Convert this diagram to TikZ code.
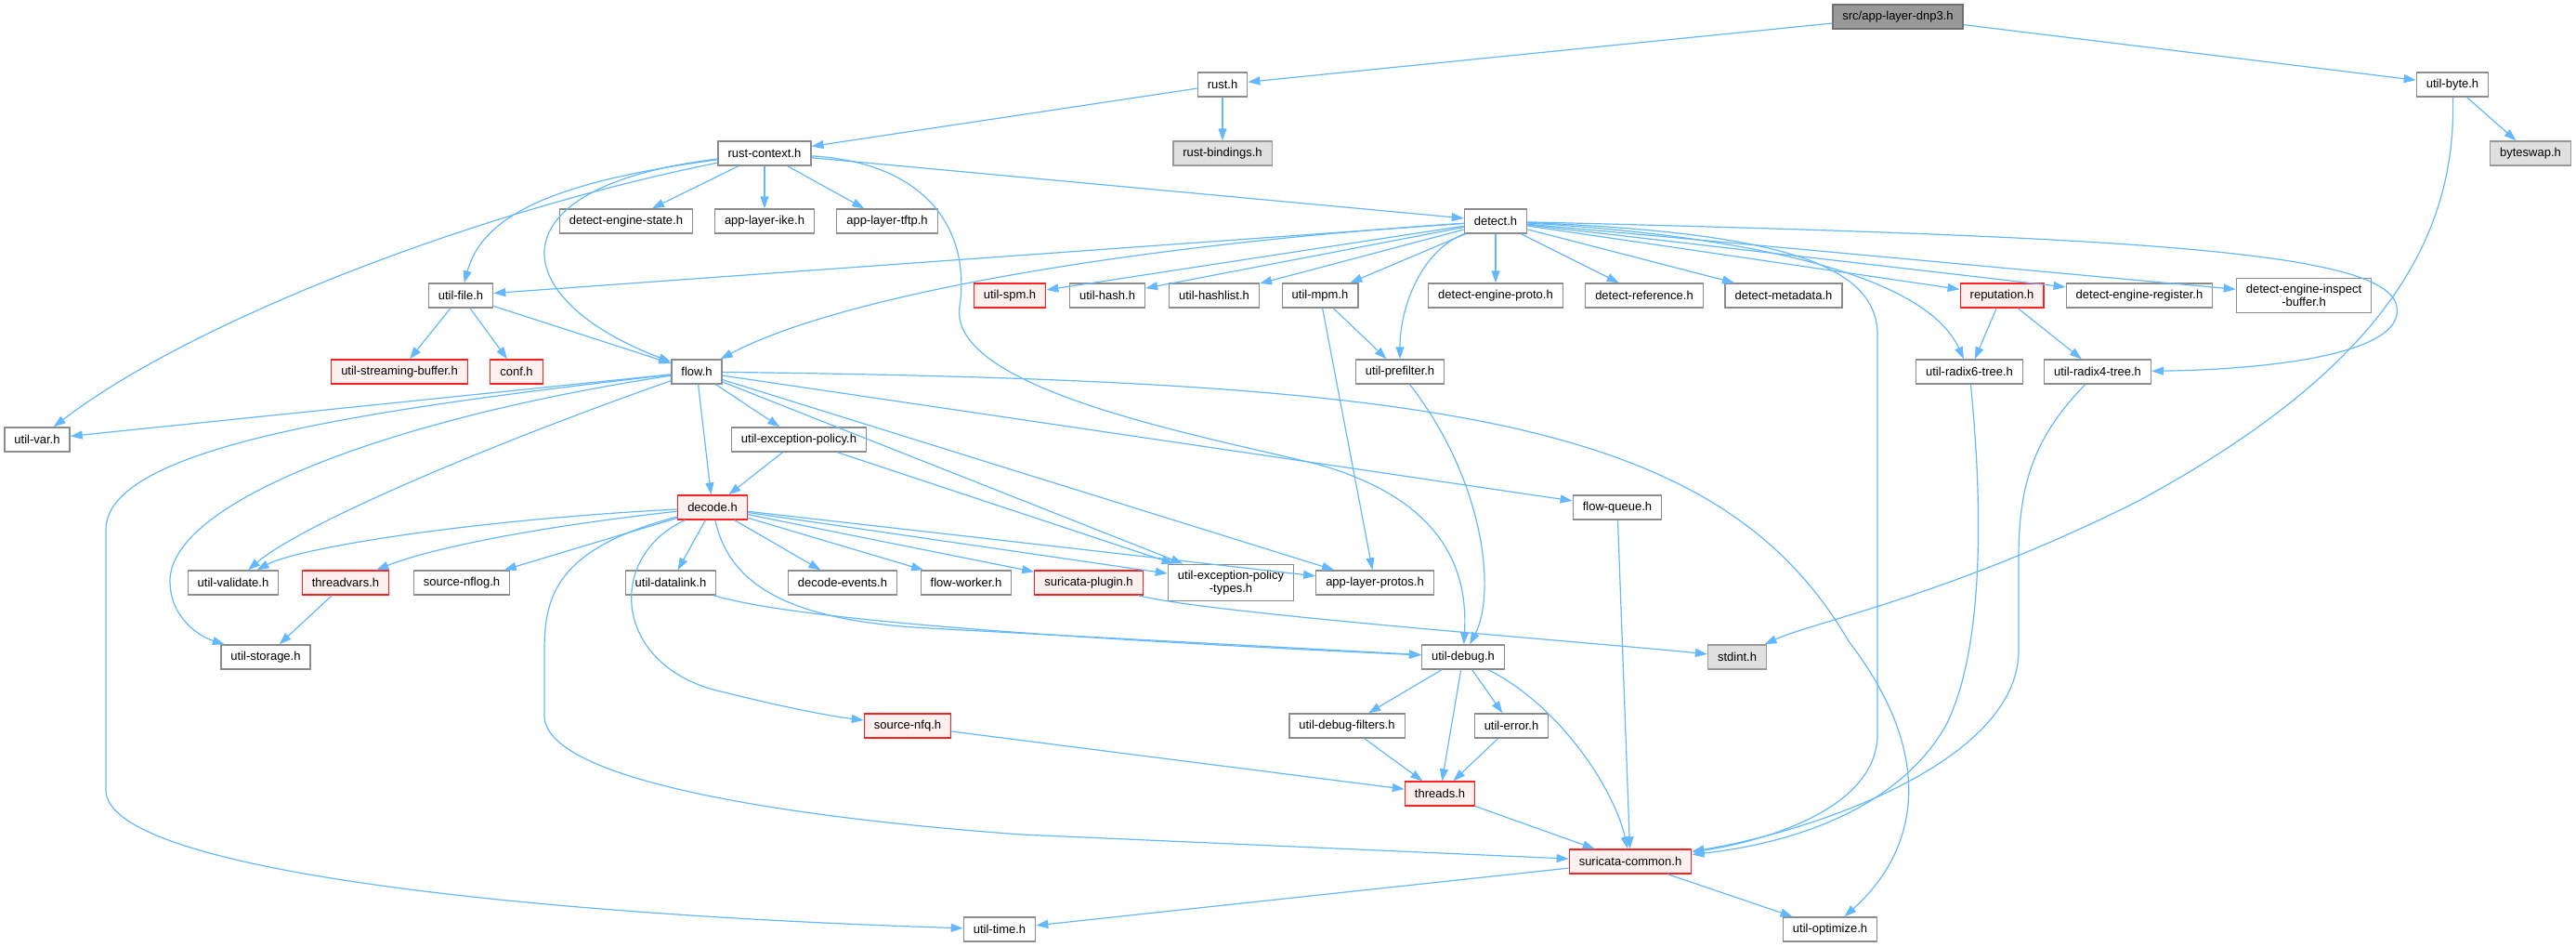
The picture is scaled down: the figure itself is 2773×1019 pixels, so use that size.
\documentclass[tikz,border=0pt]{standalone}
\usepackage{fontspec}
\setmainfont{Liberation Sans}
\usepackage{tikz}
\usetikzlibrary{shapes, arrows.meta, positioning}
\definecolor{edgeblue}{HTML}{63B8FF}
\definecolor{boxgray}{HTML}{8C8C8C}
\definecolor{boxred}{HTML}{FF2020}
\definecolor{fillred}{HTML}{FFF0F0}
\definecolor{fillext}{HTML}{E0E0E0}
\definecolor{fillroot}{HTML}{999999}
\tikzstyle{block} = [draw=boxgray, fill=white, rectangle, line width=1.3pt, inner xsep=10.5pt, inner ysep=7pt, minimum height=26pt, align=center, font=\fontsize{13}{13.4}\selectfont]
\tikzstyle{redblock} = [block, draw=boxred, fill=fillred]
\tikzstyle{extblock} = [block, draw=fillroot, fill=fillext]
\tikzstyle{rootblock} = [block, draw=boxgray!80!black, fill=fillroot]
\tikzstyle{dep} = [->, draw=edgeblue, line width=1.2pt]

\begin{document}
\begin{tikzpicture}[auto, x=1pt, y=-1pt, >={Triangle[length=13pt,width=9pt]}]
  \useasboundingbox (0,0) rectangle (2773,1019);
  \node[rootblock] (root) at (2043,18) {src/app-layer-dnp3.h};
  \node[block] (rust) at (1316,91) {rust.h};
  \node[block] (utilbyte) at (2640,91) {util-byte.h};
  \node[block] (rustctx) at (823,165) {rust-context.h};
  \node[extblock] (rustbind) at (1316,165) {rust-bindings.h};
  \node[extblock] (byteswap) at (2724,165) {byteswap.h};
  \node[block] (enginestate) at (674,238) {detect-engine-state.h};
  \node[block] (ike) at (823,238) {app-layer-ike.h};
  \node[block] (tftp) at (955,238) {app-layer-tftp.h};
  \node[block] (detect) at (1610,238) {detect.h};
  \node[block] (utilfile) at (496,318) {util-file.h};
  \node[redblock] (spm) at (1087,318) {util-spm.h};
  \node[block] (hash) at (1192,318) {util-hash.h};
  \node[block] (hashlist) at (1307,318) {util-hashlist.h};
  \node[block] (mpm) at (1421,318) {util-mpm.h};
  \node[block] (engineproto) at (1610,318) {detect-engine-proto.h};
  \node[block] (reference) at (1770,318) {detect-reference.h};
  \node[block] (metadata) at (1920,318) {detect-metadata.h};
  \node[redblock] (reputation) at (2155,318) {reputation.h};
  \node[block] (engineregister) at (2303,318) {detect-engine-register.h};
  \node[block] (inspectbuf) at (2480,318) {detect-engine-inspect\\-buffer.h};
  \node[redblock] (streambuf) at (430,400) {util-streaming-buffer.h};
  \node[redblock] (conf) at (556,400) {conf.h};
  \node[block] (flow) at (750,400) {flow.h};
  \node[block] (prefilter) at (1507,400) {util-prefilter.h};
  \node[block] (radixsix) at (2120,400) {util-radix6-tree.h};
  \node[block] (radixfour) at (2258,400) {util-radix4-tree.h};
  \node[block] (utilvar) at (40,473) {util-var.h};
  \node[block] (excpolicy) at (860,473) {util-exception-policy.h};
  \node[redblock] (decode) at (767,546) {decode.h};
  \node[block] (flowqueue) at (1741,546) {flow-queue.h};
  \node[block] (validate) at (251,627) {util-validate.h};
  \node[redblock] (threadvars) at (372,627) {threadvars.h};
  \node[block] (nflog) at (497,627) {source-nflog.h};
  \node[block] (datalink) at (722,627) {util-datalink.h};
  \node[block] (decodeevents) at (907,627) {decode-events.h};
  \node[block] (flowworker) at (1040,627) {flow-worker.h};
  \node[redblock] (plugin) at (1172,627) {suricata-plugin.h};
  \node[block] (exctypes) at (1325,627) {util-exception-policy\\-types.h};
  \node[block] (protos) at (1480,627) {app-layer-protos.h};
  \node[block] (storage) at (286,707) {util-storage.h};
  \node[block] (utildebug) at (1575,707) {util-debug.h};
  \node[extblock] (stdint) at (1870,707) {stdint.h};
  \node[redblock] (nfq) at (977,781) {source-nfq.h};
  \node[block] (debugfilters) at (1450,781) {util-debug-filters.h};
  \node[block] (utilerror) at (1627,781) {util-error.h};
  \node[redblock] (threads) at (1550,854) {threads.h};
  \node[redblock] (common) at (1755,927) {suricata-common.h};
  \node[block] (utiltime) at (1076,1000) {util-time.h};
  \node[block] (optimize) at (1970,1000) {util-optimize.h};

  \draw[dep] (root) -- (rust);
  \draw[dep] (root) -- (utilbyte);
  \draw[dep] (rust) -- (rustctx);
  \draw[dep] (rust) -- (rustbind);
  \draw[dep] (utilbyte) -- (byteswap);
  \draw[dep] (utilbyte) .. controls (2645,260) and (2560,400) .. (2300,540) .. controls (2100,640) and (1950,670) .. (stdint);
  \draw[dep] (rustctx) .. controls (500,230) and (200,350) .. (utilvar);
  \draw[dep] (rustctx) .. controls (600,195) and (520,230) .. (utilfile);
  \draw[dep] (rustctx) .. controls (530,200) and (540,320) .. (flow);
  \draw[dep] (rustctx) -- (enginestate);
  \draw[dep] (rustctx) -- (ike);
  \draw[dep] (rustctx) -- (tftp);
  \draw[dep] (rustctx) -- (detect);
  \draw[dep] (rustctx) .. controls (1000,175) and (1045,250) .. (1033,330) .. controls (1020,420) and (1300,470) .. (1420,500) .. controls (1560,540) and (1580,620) .. (utildebug);
  \draw[dep] (detect) -- (utilfile);
  \draw[dep] (detect) .. controls (1200,265) and (900,320) .. (flow);
  \draw[dep] (detect) -- (spm);
  \draw[dep] (detect) -- (hash);
  \draw[dep] (detect) -- (hashlist);
  \draw[dep] (detect) -- (mpm);
  \draw[dep] (detect) .. controls (1530,270) and (1507,330) .. (prefilter);
  \draw[dep] (detect) -- (engineproto);
  \draw[dep] (detect) -- (reference);
  \draw[dep] (detect) -- (metadata);
  \draw[dep] (detect) -- (reputation);
  \draw[dep] (detect) -- (engineregister);
  \draw[dep] (detect) -- (inspectbuf);
  \draw[dep] (detect) .. controls (1900,255) and (2075,300) .. (radixsix);
  \draw[dep] (detect) .. controls (2300,255) and (2570,270) .. (2580,330) .. controls (2590,385) and (2420,398) .. (radixfour);
  \draw[dep] (detect) .. controls (1900,250) and (2021,280) .. (2021,360) -- (2021,790) .. controls (2021,870) and (1900,905) .. (common);
  \draw[dep] (utilfile) -- (streambuf);
  \draw[dep] (utilfile) -- (conf);
  \draw[dep] (utilfile) -- (flow);
  \draw[dep] (flow) -- (utilvar);
  \draw[dep] (flow) .. controls (400,440) and (114,480) .. (114,570) -- (114,850) .. controls (114,940) and (600,985) .. (utiltime);
  \draw[dep] (flow) .. controls (420,450) and (183,540) .. (183,625) .. controls (183,665) and (215,685) .. (storage);
  \draw[dep] (flow) .. controls (550,470) and (330,560) .. (validate);
  \draw[dep] (flow) -- (decode);
  \draw[dep] (flow) -- (excpolicy);
  \draw[dep] (flow) -- (exctypes);
  \draw[dep] (flow) -- (protos);
  \draw[dep] (flow) -- (flowqueue);
  \draw[dep] (flow) .. controls (1550,410) and (1850,450) .. (1990,690) .. controls (2090,820) and (2060,920) .. (optimize);
  \draw[dep] (excpolicy) -- (decode);
  \draw[dep] (excpolicy) -- (exctypes);
  \draw[dep] (decode) .. controls (500,560) and (320,590) .. (validate);
  \draw[dep] (decode) .. controls (550,570) and (450,595) .. (threadvars);
  \draw[dep] (decode) -- (nflog);
  \draw[dep] (decode) -- (datalink);
  \draw[dep] (decode) -- (decodeevents);
  \draw[dep] (decode) -- (flowworker);
  \draw[dep] (decode) -- (plugin);
  \draw[dep] (decode) -- (exctypes);
  \draw[dep] (decode) -- (protos);
  \draw[dep] (decode) .. controls (785,630) and (850,668) .. (1000,676) -- (utildebug);
  \draw[dep] (datalink) .. controls (850,665) and (1100,685) .. (utildebug);
  \draw[dep] (decode) .. controls (650,600) and (660,720) .. (780,745) .. controls (840,760) and (890,770) .. (nfq);
  \draw[dep] (decode) .. controls (600,590) and (586,640) .. (586,700) -- (586,770) .. controls (586,840) and (850,880) .. (1100,898) -- (common);
  \draw[dep] (threadvars) -- (storage);
  \draw[dep] (nfq) -- (threads);
  \draw[dep] (plugin) .. controls (1300,660) and (1700,690) .. (stdint);
  \draw[dep] (utildebug) -- (debugfilters);
  \draw[dep] (utildebug) -- (threads);
  \draw[dep] (utildebug) -- (utilerror);
  \draw[dep] (utildebug) .. controls (1680,760) and (1738,850) .. (common);
  \draw[dep] (debugfilters) -- (threads);
  \draw[dep] (utilerror) -- (threads);
  \draw[dep] (threads) -- (common);
  \draw[dep] (common) -- (utiltime);
  \draw[dep] (common) -- (optimize);
  \draw[dep] (flowqueue) -- (common);
  \draw[dep] (prefilter) .. controls (1600,520) and (1610,640) .. (utildebug);
  \draw[dep] (mpm) -- (prefilter);
  \draw[dep] (mpm) -- (protos);
  \draw[dep] (reputation) -- (radixsix);
  \draw[dep] (reputation) -- (radixfour);
  \draw[dep] (radixsix) .. controls (2135,550) and (2135,700) .. (2095,780) .. controls (2050,860) and (1950,905) .. (common);
  \draw[dep] (radixfour) .. controls (2190,470) and (2173,520) .. (2173,600) -- (2173,700) .. controls (2173,820) and (1950,895) .. (common);
\end{tikzpicture}
\end{document}
